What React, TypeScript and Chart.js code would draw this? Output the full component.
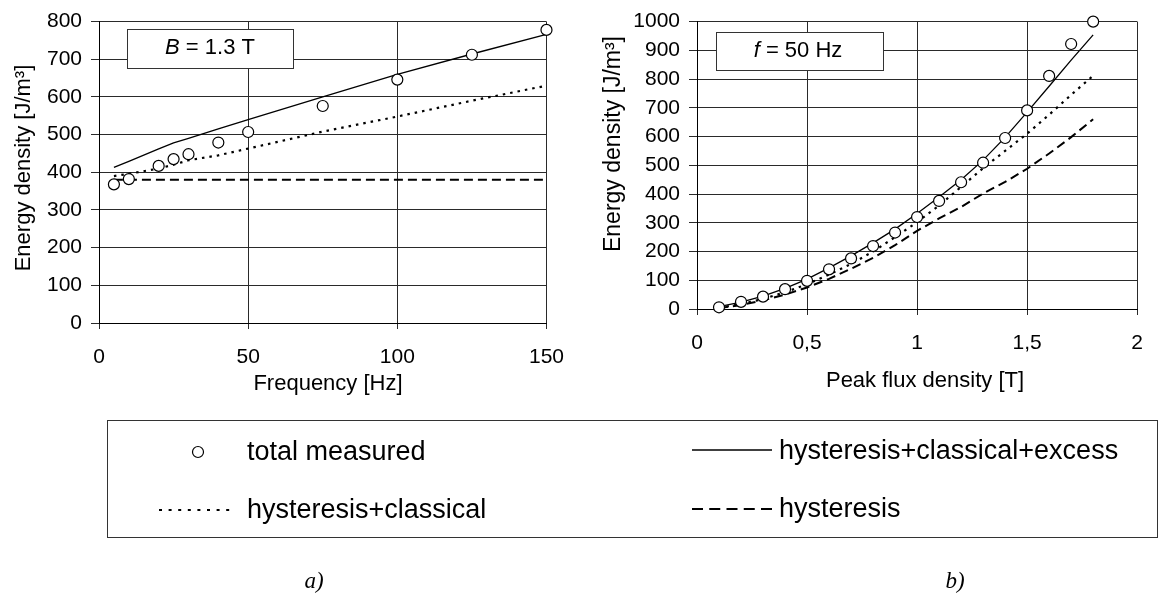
import React, { useEffect, useRef } from 'react';
import { Chart, registerables } from 'chart.js';

Chart.register(...registerables);

// ---------- Data: chart a) energy vs frequency at B = 1.3 T ----------
const freqHz = [5, 10, 20, 25, 30, 40, 50, 75, 100, 125, 150];
const freqTotalMeasured = [368, 382, 417, 435, 448, 479, 507, 576, 646, 712, 778];
const freqHystClassExcess = [413, 429, 462, 478, 490, 515, 540, 600, 660, 714, 766];
const freqHystClassical = [390, 396, 410, 420, 432, 445, 463, 508, 548, 590, 630];
const freqHysteresis = [380, 380, 380, 380, 380, 380, 380, 380, 380, 380, 380];
const freqXTicks = [0, 50, 100, 150];
const freqYTicks = [0, 100, 200, 300, 400, 500, 600, 700, 800];

// ---------- Data: chart b) energy vs peak flux density at f = 50 Hz ----------
const fluxT = [0.1, 0.2, 0.3, 0.4, 0.5, 0.6, 0.7, 0.8, 0.9, 1.0, 1.1, 1.2, 1.3, 1.4, 1.5, 1.6, 1.7, 1.8];
const fluxTotalMeasured = [6, 25, 43, 69, 98, 138, 176, 219, 266, 320, 376, 441, 509, 595, 691, 811, 922, 1000];
const fluxHystClassExcess = [8, 24, 45, 72, 104, 143, 185, 230, 278, 332, 390, 450, 518, 597, 685, 775, 866, 954];
const fluxHystClassical = [4, 17, 35, 58, 86, 120, 157, 200, 250, 302, 360, 425, 490, 550, 610, 676, 745, 812];
const fluxHysteresis = [3, 14, 30, 50, 75, 105, 140, 178, 222, 272, 315, 355, 402, 442, 488, 541, 598, 660];
const fluxXTicks = [0, 0.5, 1, 1.5, 2];
const fluxYTicks = [0, 100, 200, 300, 400, 500, 600, 700, 800, 900, 1000];

const seriesLabels = ['total measured', 'hysteresis+classical+excess', 'hysteresis+classical', 'hysteresis'];

const SANS = "'Liberation Sans', Arial, Helvetica, sans-serif";
const SERIF = "'Liberation Serif', 'Times New Roman', serif";
const GRID = '#2a2a2a';

type Geo = {
  width: number;
  height: number;
  padTop: number;
  padRight: number;
  yAxisW: number;
  xAxisH: number;
  xMin: number;
  xMax: number;
  yMin: number;
  yMax: number;
  xTicks: number[];
  yTicks: number[];
  comma: boolean;
  yTitle: { text: string; x: number; y: number; size: number };
  xTitle: { text: string; x: number; y: number; size: number };
  box: { x: number; y: number; w: number; h: number; italic: string; rest: string; tx: number; ty: number };
};

function pts(xs: number[], ys: number[]) {
  return xs.map((x, i) => ({ x, y: ys[i] }));
}

function overlay(g: Geo) {
  return {
    id: 'overlay',
    beforeDatasetsDraw(chart: any) {
      const ctx = chart.ctx as CanvasRenderingContext2D;
      const b = g.box;
      ctx.save();
      ctx.fillStyle = '#fff';
      ctx.fillRect(b.x, b.y, b.w, b.h);
      ctx.strokeStyle = '#333';
      ctx.lineWidth = 1;
      ctx.strokeRect(b.x + 0.5, b.y + 0.5, b.w, b.h);
      ctx.fillStyle = '#000';
      ctx.textBaseline = 'middle';
      ctx.textAlign = 'left';
      ctx.font = `italic 22px ${SANS}`;
      const w1 = ctx.measureText(b.italic).width;
      ctx.font = `22px ${SANS}`;
      const w2 = ctx.measureText(b.rest).width;
      const start = b.tx - (w1 + w2) / 2;
      ctx.font = `italic 22px ${SANS}`;
      ctx.fillText(b.italic, start, b.ty);
      ctx.font = `22px ${SANS}`;
      ctx.fillText(b.rest, start + w1, b.ty);
      ctx.restore();
    },
    afterDraw(chart: any) {
      const ctx = chart.ctx as CanvasRenderingContext2D;
      ctx.save();
      ctx.fillStyle = '#000';
      ctx.textAlign = 'center';
      ctx.textBaseline = 'middle';
      ctx.font = `${g.xTitle.size}px ${SANS}`;
      ctx.fillText(g.xTitle.text, g.xTitle.x, g.xTitle.y);
      ctx.translate(g.yTitle.x, g.yTitle.y);
      ctx.rotate(-Math.PI / 2);
      ctx.font = `${g.yTitle.size}px ${SANS}`;
      ctx.fillText(g.yTitle.text, 0, 0);
      ctx.restore();
    },
  };
}

function buildConfig(g: Geo, xs: number[], measured: number[], full: number[], hc: number[], hy: number[]): any {
  const tickFont = { family: SANS, size: 21 };
  return {
    type: 'scatter',
    data: {
      datasets: [
        {
          label: seriesLabels[0],
          data: pts(xs, measured),
          showLine: false,
          pointRadius: 5.5,
          pointStyle: 'circle',
          pointBackgroundColor: '#fff',
          pointBorderColor: '#000',
          pointBorderWidth: 1.2,
          clip: false,
        },
        {
          label: seriesLabels[1],
          data: pts(xs, full),
          showLine: true,
          borderColor: '#000',
          borderWidth: 1.3,
          pointRadius: 0,
          tension: 0,
          clip: false,
        },
        {
          label: seriesLabels[2],
          data: pts(xs, hc),
          showLine: true,
          borderColor: '#000',
          borderWidth: 2.2,
          borderDash: [2.5, 5],
          pointRadius: 0,
          tension: 0,
          clip: false,
        },
        {
          label: seriesLabels[3],
          data: pts(xs, hy),
          showLine: true,
          borderColor: '#000',
          borderWidth: 2,
          borderDash: [9, 5],
          pointRadius: 0,
          tension: 0,
          clip: false,
        },
      ],
    },
    options: {
      animation: false,
      responsive: false,
      events: [],
      layout: { padding: { top: g.padTop, right: g.padRight, left: 0, bottom: 0 } },
      plugins: { legend: { display: false }, tooltip: { enabled: false }, title: { display: false } },
      scales: {
        x: {
          type: 'linear',
          min: g.xMin,
          max: g.xMax,
          afterBuildTicks: (axis: any) => {
            axis.ticks = g.xTicks.map((v) => ({ value: v }));
          },
          afterFit: (s: any) => {
            s.height = g.xAxisH;
          },
          grid: { color: GRID, lineWidth: 1, tickLength: 6, drawTicks: true },
          border: { color: '#000', width: 1 },
          ticks: {
            font: tickFont,
            color: '#000',
            padding: 16,
            maxRotation: 0,
            autoSkip: false,
            callback: (v: any) => (g.comma ? String(v).replace('.', ',') : String(v)),
          },
        },
        y: {
          type: 'linear',
          min: g.yMin,
          max: g.yMax,
          afterBuildTicks: (axis: any) => {
            axis.ticks = g.yTicks.map((v) => ({ value: v }));
          },
          afterFit: (s: any) => {
            s.width = g.yAxisW;
          },
          grid: { color: GRID, lineWidth: 1, tickLength: 8, drawTicks: true },
          border: { color: '#000', width: 1 },
          ticks: { font: tickFont, color: '#000', padding: 9, autoSkip: false, callback: (v: any) => String(v) },
        },
      },
    },
    plugins: [overlay(g)],
  };
}

const geoA: Geo = {
  width: 580,
  height: 400,
  padTop: 17,
  padRight: 23,
  yAxisW: 99,
  xAxisH: 77,
  xMin: 0,
  xMax: 150,
  yMin: 0,
  yMax: 800,
  xTicks: freqXTicks,
  yTicks: freqYTicks,
  comma: false,
  yTitle: { text: 'Energy density [J/m³]', x: 24, y: 168, size: 22 },
  xTitle: { text: 'Frequency [Hz]', x: 328, y: 384, size: 22 },
  box: { x: 127, y: 29, w: 166, h: 39, italic: 'B', rest: ' = 1.3 T', tx: 210, ty: 48 },
};

const geoB: Geo = {
  width: 579,
  height: 400,
  padTop: 21,
  padRight: 6,
  yAxisW: 117,
  xAxisH: 91,
  xMin: 0,
  xMax: 2,
  yMin: 0,
  yMax: 1000,
  xTicks: fluxXTicks,
  yTicks: fluxYTicks,
  comma: true,
  yTitle: { text: 'Energy density [J/m³]', x: 34, y: 144, size: 23 },
  xTitle: { text: 'Peak flux density [T]', x: 345, y: 381, size: 22 },
  box: { x: 136, y: 32, w: 167, h: 38, italic: 'f', rest: ' = 50 Hz', tx: 218, ty: 51 },
};

function ChartCanvas(props: { geo: Geo; left: number; xs: number[]; m: number[]; f: number[]; hc: number[]; hy: number[] }) {
  const ref = useRef<HTMLCanvasElement | null>(null);
  useEffect(() => {
    if (!ref.current) return;
    const chart = new Chart(ref.current, buildConfig(props.geo, props.xs, props.m, props.f, props.hc, props.hy));
    return () => chart.destroy();
  }, []);
  return (
    <canvas
      ref={ref}
      width={props.geo.width}
      height={props.geo.height}
      style={{ position: 'absolute', left: props.left, top: 0, width: props.geo.width, height: props.geo.height }}
    />
  );
}

const legendText: React.CSSProperties = {
  position: 'absolute',
  fontFamily: SANS,
  fontSize: 27,
  lineHeight: '1',
  whiteSpace: 'nowrap',
  color: '#000',
  transform: 'translateY(-50%)',
};

export default function App() {
  return (
    <div style={{ position: 'absolute', left: 0, top: 0, width: 1159, height: 594, background: '#fff', overflow: 'hidden' }}>
      <ChartCanvas geo={geoA} left={0} xs={freqHz} m={freqTotalMeasured} f={freqHystClassExcess} hc={freqHystClassical} hy={freqHysteresis} />
      <ChartCanvas geo={geoB} left={580} xs={fluxT} m={fluxTotalMeasured} f={fluxHystClassExcess} hc={fluxHystClassical} hy={fluxHysteresis} />

      <div
        style={{
          position: 'absolute',
          left: 107,
          top: 420,
          width: 1051,
          height: 118,
          boxSizing: 'border-box',
          border: '1px solid #333',
        }}
      />
      <svg width={1159} height={594} style={{ position: 'absolute', left: 0, top: 0 }}>
        <circle cx={198} cy={452} r={5.5} fill="#fff" stroke="#000" strokeWidth={1.2} />
        <line x1={159} y1={510} x2={233} y2={510} stroke="#000" strokeWidth={2} strokeDasharray="3 6.6" />
        <line x1={692} y1={450} x2={772} y2={450} stroke="#000" strokeWidth={1.3} />
        <line x1={692} y1={509} x2={772} y2={509} stroke="#000" strokeWidth={2} strokeDasharray="11 6.25" />
      </svg>
      <div style={{ ...legendText, left: 247, top: 451 }}>{seriesLabels[0]}</div>
      <div style={{ ...legendText, left: 247, top: 509 }}>{seriesLabels[2]}</div>
      <div style={{ ...legendText, left: 779, top: 450 }}>{seriesLabels[1]}</div>
      <div style={{ ...legendText, left: 779, top: 508 }}>{seriesLabels[3]}</div>

      <div style={{ position: 'absolute', left: 314, top: 580, transform: 'translate(-50%, -50%)', fontFamily: SERIF, fontStyle: 'italic', fontSize: 23, lineHeight: '1' }}>a)</div>
      <div style={{ position: 'absolute', left: 955, top: 580, transform: 'translate(-50%, -50%)', fontFamily: SERIF, fontStyle: 'italic', fontSize: 23, lineHeight: '1' }}>b)</div>
    </div>
  );
}
